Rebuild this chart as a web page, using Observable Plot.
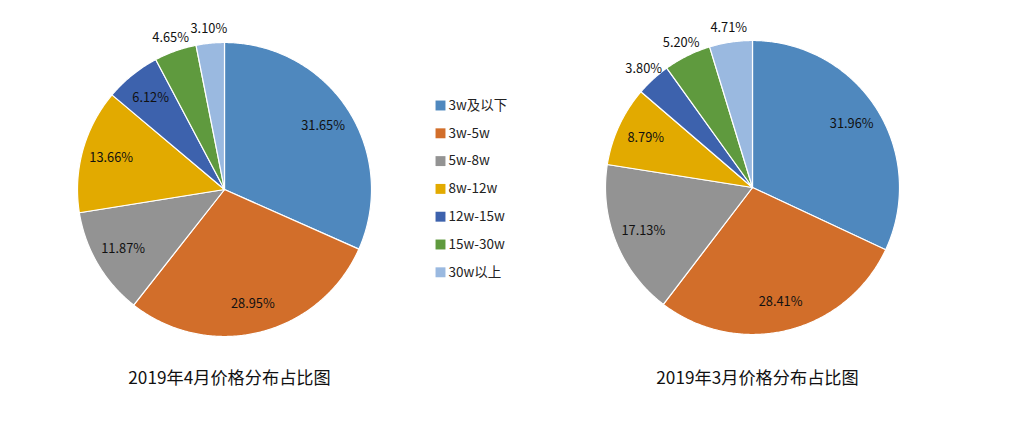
<!DOCTYPE html>
<html>
<head>
<meta charset="utf-8">
<script src="https://cdn.jsdelivr.net/npm/d3@7"></script>
<script src="https://cdn.jsdelivr.net/npm/@observablehq/plot@0.6"></script>
<style>
  html, body { margin: 0; padding: 0; background: #fff; }
  #chart svg { display: block; }
</style>
</head>
<body>
<div id="chart"></div>
<script>
// ---- data ----
const categories = ["3w及以下", "3w-5w", "5w-8w", "8w-12w", "12w-15w", "15w-30w", "30w以上"];
const aprilShares = [31.65, 28.95, 11.87, 13.66, 6.12, 4.65, 3.10];
const marchShares = [31.96, 28.41, 17.13, 8.79, 3.80, 5.20, 4.71];
const chartTitles = ["2019年4月价格分布占比图", "2019年3月价格分布占比图"];
const sliceColors = ["#4f88be", "#d26e2a", "#939393", "#e2aa00", "#3d62ad", "#5f9a3e", "#9ab9e0"];

// ---- layout ----
const W = 1011, H = 426, R = 147;
const pies = [
  {key: "apr", cx: 224, cy: 189, shares: aprilShares, title: chartTitles[0]},
  {key: "mar", cx: 752, cy: 187, shares: marchShares, title: chartTitles[1]}
];

const slices = [], labels = [], titles = [];
for (const p of pies) {
  const total = d3.sum(p.shares);
  let acc = 0;
  p.shares.forEach((v, i) => {
    const a0 = acc / total * 2 * Math.PI;
    acc += v;
    const a1 = acc / total * 2 * Math.PI;
    const id = p.key + i;
    const pt = (a, r) => ({id, cat: categories[i], x: p.cx + r * Math.sin(a), y: p.cy - r * Math.cos(a)});
    slices.push(pt(0, 0));
    const n = Math.max(2, Math.ceil((a1 - a0) / (Math.PI / 360)));
    for (let k = 0; k <= n; k++) slices.push(pt(a0 + (a1 - a0) * k / n, R));
    slices.push(pt(0, 0));
    const am = (a0 + a1) / 2;
    const rl = v < 6 ? R + 14 : R * 0.8;
    labels.push({x: p.cx + rl * Math.sin(am), y: p.cy - rl * Math.cos(am), text: v.toFixed(2) + "%"});
  });
  titles.push({x: p.cx + 5, y: 378, text: p.title});
}

const legend = categories.map((c, i) => ({cat: c, x: 440, y: 105 + i * 27.8}));

const chart = Plot.plot({
  width: W, height: H,
  margin: 0,
  style: {fontFamily: "'Noto Sans CJK SC', 'Noto Sans', sans-serif", background: "#fff"},
  x: {domain: [0, W], range: [0, W], axis: null},
  y: {domain: [0, H], range: [0, H], axis: null},
  color: {domain: categories, range: sliceColors},
  marks: [
    Plot.line(slices, {x: "x", y: "y", z: "id", fill: "cat", stroke: "#fff", strokeWidth: 1.2, curve: "linear"}),
    Plot.text(labels, {x: "x", y: "y", text: "text", fontSize: 12.8, fill: "#111"}),
    Plot.dot(legend, {x: "x", y: "y", symbol: "square", r: 5.6, fill: "cat", stroke: null}),
    Plot.text(legend, {x: "x", y: "y", dx: 8, text: "cat", textAnchor: "start", fontSize: 13.5, fill: "#222"}),
    Plot.text(titles, {x: "x", y: "y", text: "text", fontSize: 17.2, fill: "#111"})
  ]
});
document.getElementById("chart").appendChild(chart);
</script>
</body>
</html>
